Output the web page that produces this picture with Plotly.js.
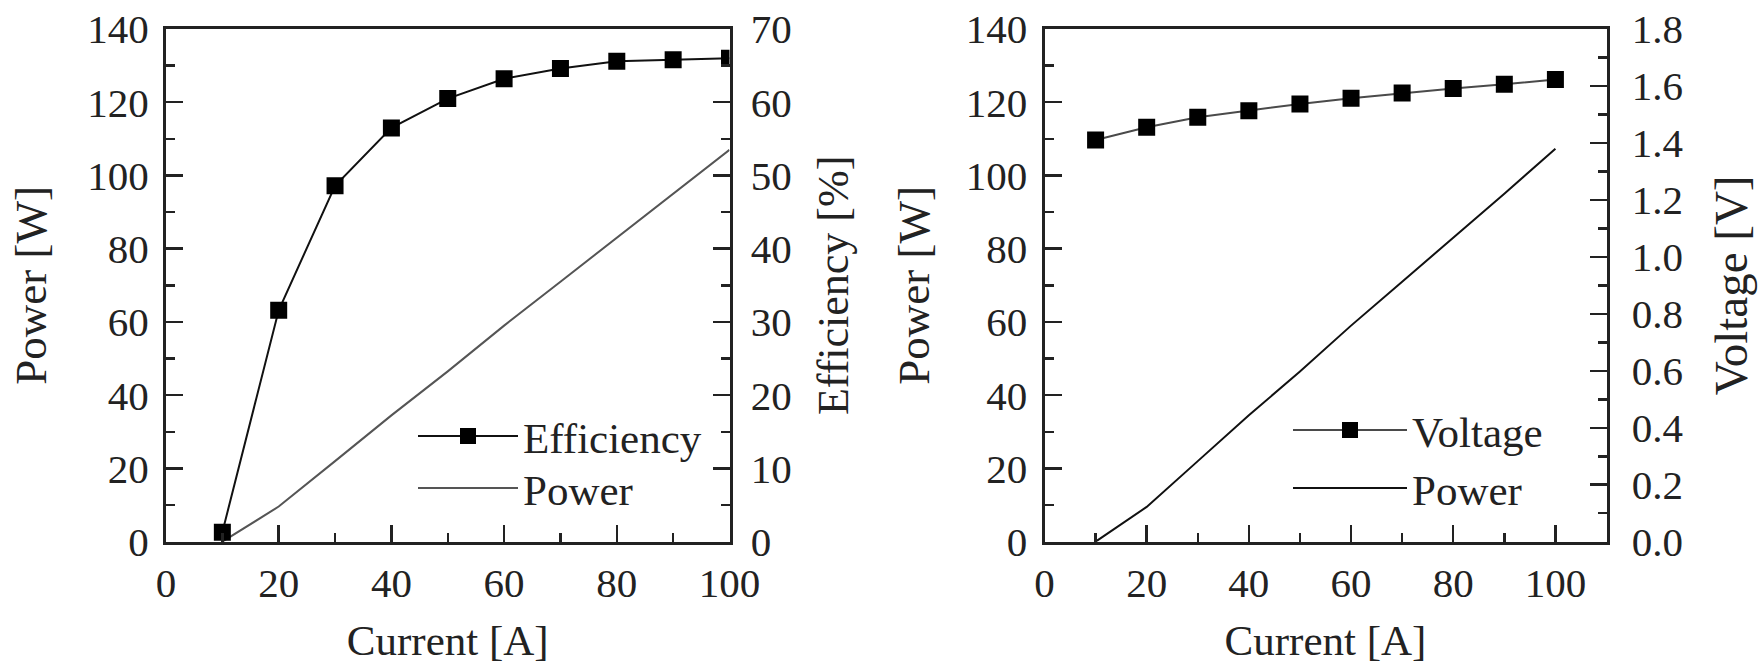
<!DOCTYPE html>
<html>
<head>
<meta charset="utf-8">
<script src="https://cdn.plot.ly/plotly-3.0.1.min.js"></script>
<style>
  html, body { margin: 0; padding: 0; background: #ffffff; }
  #chart { width: 1761px; height: 664px; }
</style>
</head>
<body>
<div id="chart"></div>
<script>
// ---- data ----
var current = [10, 20, 30, 40, 50, 60, 70, 80, 90, 100];           // Current [A]
var efficiency = [1.3, 31.6, 48.6, 56.5, 60.5, 63.2, 64.6, 65.6, 65.8, 66.0]; // Efficiency [%]
var powerLeft = [0, 9.6, 22, 34.5, 46.5, 59, 71, 83, 95, 107];     // Power [W] (left panel)
var voltage = [1.41, 1.455, 1.49, 1.513, 1.537, 1.557, 1.575, 1.591, 1.606, 1.623]; // Voltage [V]
var powerRight = [0, 9.5, 22, 34.5, 46.5, 59, 71, 83, 95, 107.3];  // Power [W] (right panel)

var FONT = "'Liberation Serif', 'Times New Roman', serif";
var TXT = '#222222';
var AX = '#222222';

function axisBase(extra) {
  var a = {
    showgrid: false, zeroline: false, showline: true,
    linecolor: AX, linewidth: 3,
    ticks: 'inside', ticklen: 17, tickwidth: 2.5, tickcolor: AX,
    tickfont: {family: FONT, size: 41, color: TXT},
    fixedrange: true
  };
  for (var k in extra) a[k] = extra[k];
  return a;
}
function minor(d) {
  return {dtick: d, ticks: 'inside', ticklen: 9, tickwidth: 2.5, tickcolor: AX, showgrid: false};
}
function legendAt(xpx, ypx, w) {
  return {
    x: xpx / 1761, xanchor: 'left', y: (664 - ypx) / 664, yanchor: 'middle',
    bgcolor: 'rgba(0,0,0,0)', borderwidth: 0, itemwidth: w,
    font: {family: FONT, size: 43, color: TXT},
    tracegroupgap: 0
  };
}
function tf(size) { return {family: FONT, size: size, color: TXT}; }

var data = [
  {
    x: current, y: efficiency, xaxis: 'x', yaxis: 'y2', name: 'Efficiency',
    mode: 'lines+markers', legend: 'legend',
    line: {color: '#111111', width: 2},
    marker: {symbol: 'square', size: 17, color: '#000000'}
  },
  {
    x: current, y: powerLeft, xaxis: 'x', yaxis: 'y', name: 'Power',
    mode: 'lines', legend: 'legend2',
    line: {color: '#555555', width: 2}
  },
  {
    x: current, y: voltage, xaxis: 'x2', yaxis: 'y4', name: 'Voltage',
    mode: 'lines+markers', legend: 'legend3',
    line: {color: '#4a4a4a', width: 2},
    marker: {symbol: 'square', size: 17, color: '#000000'}
  },
  {
    x: current, y: powerRight, xaxis: 'x2', yaxis: 'y3', name: 'Power',
    mode: 'lines', legend: 'legend4',
    line: {color: '#111111', width: 2}
  }
];

var yDom = [(664 - 541.7) / 664, (664 - 29) / 664];

var layout = {
  width: 1761, height: 664,
  margin: {l: 0, r: 0, t: 0, b: 0},
  paper_bgcolor: '#ffffff', plot_bgcolor: '#ffffff',
  font: {family: FONT, color: TXT},
  showlegend: true,
  xaxis: axisBase({
    domain: [166 / 1761, 729.5 / 1761], range: [0, 100], anchor: 'y',
    dtick: 20, tick0: 0, mirror: true, minor: minor(10), ticklabelstandoff: 3,
    title: {text: 'Current [A]', font: tf(43), standoff: 32}
  }),
  yaxis: axisBase({
    domain: yDom, range: [0, 140], anchor: 'x',
    dtick: 20, tick0: 0, minor: minor(10), ticklabelstandoff: 6,
    title: {text: 'Power [W]', font: tf(45), standoff: 27}
  }),
  yaxis2: axisBase({
    overlaying: 'y', side: 'right', anchor: 'x', range: [0, 70],
    dtick: 10, tick0: 0, minor: minor(5), ticklabelstandoff: 10,
    title: {text: 'Efficiency [%]', font: tf(44), standoff: 27}
  }),
  xaxis2: axisBase({
    domain: [1044.5 / 1761, 1606.5 / 1761], range: [0, 110], anchor: 'y3',
    dtick: 20, tick0: 0, mirror: true, minor: minor(10), ticklabelstandoff: 3,
    title: {text: 'Current [A]', font: tf(43), standoff: 32}
  }),
  yaxis3: axisBase({
    domain: yDom, range: [0, 140], anchor: 'x2',
    dtick: 20, tick0: 0, minor: minor(10), ticklabelstandoff: 6,
    title: {text: 'Power [W]', font: tf(45), standoff: 23}
  }),
  yaxis4: axisBase({
    overlaying: 'y3', side: 'right', anchor: 'x2', range: [0, 1.8],
    dtick: 0.2, tick0: 0, tickformat: '.1f', minor: minor(0.1), ticklabelstandoff: 14,
    title: {text: 'Voltage [V]', font: tf(47), standoff: 33}
  }),
  legend: legendAt(413, 436, 100),
  legend2: legendAt(413, 488, 100),
  legend3: legendAt(1288, 430, 114),
  legend4: legendAt(1288, 488, 114)
};

Plotly.newPlot('chart', data, layout, {displayModeBar: false, staticPlot: true});
</script>
</body>
</html>
